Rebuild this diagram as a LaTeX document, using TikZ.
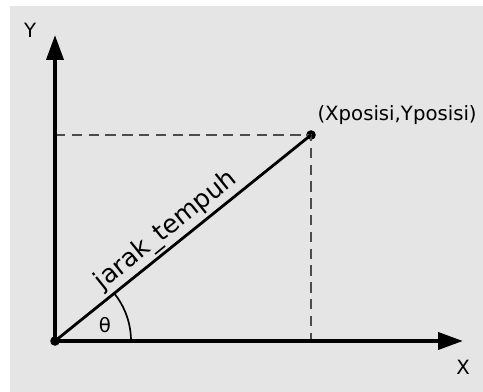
\documentclass[tikz,border=0pt]{standalone}
\usepackage{fontspec}
\setmainfont{DejaVu Sans}
\usetikzlibrary{arrows.meta, positioning, backgrounds}

\begin{document}
\begin{tikzpicture}[
    font=\fontsize{14}{16}\selectfont,
    axis/.style={line width=2.8pt,-{Triangle[length=6.2mm,width=4.2mm]}},
    dot/.style={circle,fill=black,inner sep=0pt,minimum size=2.4mm},
    guide/.style={dash pattern=on 2.6mm off 1.6mm,line width=0.9pt,black!70}
  ]
    \useasboundingbox (-1.375,-1.275) rectangle (10.7,8.525);
    \fill[black!10] (-1.125,-1.275) rectangle (10.7,8.375);

    \node[dot] (origin) at (0,0) {};
    \node[dot] (pos) at (6.4,5.15) {};
    \coordinate (ytip) at (0,7.65);
    \coordinate (xtip) at (10.2,0);
    \coordinate (xfoot) at (pos |- origin);
    \coordinate (yfoot) at (pos -| origin);

    \draw[guide] (yfoot) -- (pos.center) -- (xfoot);
    \draw[axis] (origin.center) -- (ytip);
    \draw[axis] (origin.center) -- (xtip);
    \draw[line width=2pt] (origin.center) -- node[pos=0.475, sloped, above=1.5pt, inner sep=0pt, font=\fontsize{18}{20}\selectfont] (dist) {jarak\_tempuh} (pos.center);
    \draw[line width=1.2pt] (1.9,0) arc[start angle=0, end angle=38.8, radius=1.9];

    \node[left=0.35cm of ytip, yshift=0.12cm] (ylabel) {Y};
    \node[below=0.35cm of xtip] (xlabel) {X};
    \node (theta) at (17.7:1.31) {θ};
    \node[above right=0.05cm and -0.05cm of pos] (poslabel) {(Xposisi,Yposisi)};
\end{tikzpicture}
\end{document}
